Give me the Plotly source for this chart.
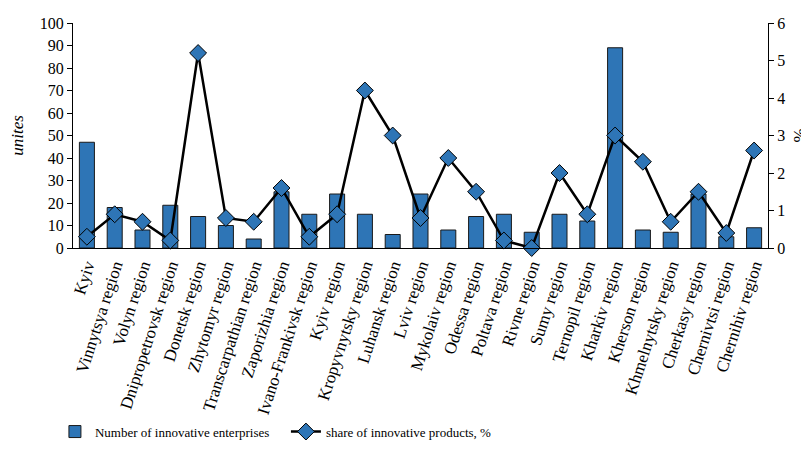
import plotly.graph_objects as go

regions = ["Kyiv", "Vinnytsya region", "Volyn region", "Dnipropetrovsk region", "Donetsk region",
           "Zhytomyr region", "Transcarpathian region", "Zaporizhia region", "Ivano-Frankivsk region",
           "Kyiv region", "Kropyvnytsky region", "Luhansk region", "Lviv region", "Mykolaiv region",
           "Odessa region", "Poltava region", "Rivne region", "Sumy region", "Ternopil region",
           "Kharkiv region", "Kherson region", "Khmelnytsky region", "Cherkasy region",
           "Chernivtsi region", "Chernihiv region"]
enterprises = [47, 18, 8, 19, 14, 10, 4, 25, 15, 24, 15, 6, 24, 8, 14, 15, 7, 15, 12, 89, 8, 7, 24, 5, 9]
share = [0.3, 0.9, 0.7, 0.2, 5.2, 0.8, 0.7, 1.6, 0.3, 0.9, 4.2, 3.0, 0.8, 2.4, 1.5, 0.2, 0.0, 2.0, 0.9,
         3.0, 2.3, 0.7, 1.5, 0.4, 2.6]

FONT = "Liberation Serif, Times New Roman, serif"

fig = go.Figure()
fig.add_trace(go.Bar(
    x=regions, y=enterprises, name="Number of innovative enterprises",
    marker=dict(color="#2E75B6", line=dict(color="#1a1a1a", width=1)),
    yaxis="y",
))
fig.add_trace(go.Scatter(
    x=regions, y=share, name="share of innovative products, %",
    mode="lines+markers",
    line=dict(color="black", width=2.5),
    marker=dict(symbol="diamond", size=13, color="#2E75B6", line=dict(color="black", width=1)),
    yaxis="y2", cliponaxis=False,
))

fig.update_layout(
    width=809, height=451,
    margin=dict(l=65, r=49, t=15, b=202),
    paper_bgcolor="white", plot_bgcolor="white",
    font=dict(family=FONT, size=15, color="black"),
    bargap=0.46,
    showlegend=True,
    legend=dict(orientation="h", x=-0.026, xanchor="left", y=-0.816, yanchor="middle",
                font=dict(family=FONT, size=13), itemwidth=30, tracegroupgap=0,
                entrywidthmode="pixels", entrywidth=186),
    xaxis=dict(
        range=[-0.5, len(regions) - 0.5],
        tickangle=-72, showline=True, linecolor="black", linewidth=1,
        ticks="", showgrid=False, tickfont=dict(family=FONT, size=17),
        automargin=False,
    ),
    yaxis=dict(
        range=[0, 100], dtick=10, showline=True, linecolor="black", linewidth=1,
        ticks="outside", ticklen=5, tickcolor="black", showgrid=False, zeroline=False,
        title=dict(text="<i>unites</i>", font=dict(family=FONT, size=17), standoff=14),
        tickfont=dict(family=FONT, size=16), automargin=False,
    ),
    yaxis2=dict(
        range=[0, 6], dtick=1, overlaying="y", side="right", showline=True,
        linecolor="black", linewidth=1, ticks="outside", ticklen=5, tickcolor="black",
        showgrid=False, zeroline=False,
        title=dict(text="%", font=dict(family=FONT, size=17), standoff=8),
        tickfont=dict(family=FONT, size=16), automargin=False,
    ),
)

fig.write_html("out.html")
